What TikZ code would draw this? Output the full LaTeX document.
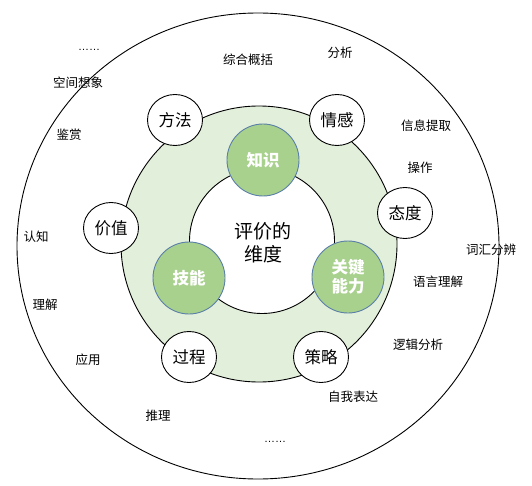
\documentclass[tikz,border=0pt]{standalone}
\usepackage{fontspec}
\setmainfont{Liberation Sans}
\newfontfamily\cjk{Noto Sans CJK SC}
\usepackage{xcolor}
\usepackage{tikz}
\usetikzlibrary{shapes}

\definecolor{ringgreen}{HTML}{E2EFDA}
\definecolor{keygreen}{HTML}{A9D18E}
\definecolor{keyedge}{HTML}{5A7FA8}

\begin{document}
\begin{tikzpicture}[x=1pt, y=-1pt]
		\tikzstyle{biground} = [draw=black, line width=0.9pt, circle, inner sep=0pt]
		\tikzstyle{keyround} = [draw=keyedge, line width=0.9pt, fill=keygreen, circle, minimum size=72, inner sep=0pt, align=center, text=white, font=\cjk\bfseries\fontsize{16.5}{19}\selectfont]
		\tikzstyle{aspect} = [draw=black, line width=0.9pt, fill=white, ellipse, minimum width=55, minimum height=51, inner sep=0pt, font=\cjk\fontsize{16.5}{19}\selectfont]
		\tikzstyle{ability} = [draw=none, inner sep=0pt, font=\cjk\fontsize{12.5}{14}\selectfont]
		\tikzstyle{more} = [draw=none, inner sep=0pt, font=\fontsize{11}{13}\selectfont]

		\useasboundingbox (0,0) rectangle (532,486);

		% rings
		\node[biground, ellipse, fill=white, minimum width=482, minimum height=466] at (258,246) (outer) {};
		\node[biground, fill=ringgreen, minimum size=276] at (259,244) (ring) {};
		\node[biground, fill=white, minimum size=145] at (262,241) (core) {};
		\node[align=center, inner sep=0pt, font=\cjk\fontsize{19}{23.5}\selectfont] at (263,243) (title) {评价的\\维度};

		% key dimensions
		\node[keyround] at (263,160) (knowledge) {知识};
		\node[keyround] at (189,278) (skill) {技能};
		\node[keyround] at (348,277) (keyability) {关键\\能力};

		% aspects on the ring
		\node[aspect] at (175,120) (method) {方法};
		\node[aspect] at (337,120) (emotion) {情感};
		\node[aspect] at (405,213) (attitude) {态度};
		\node[aspect] at (111,228) (value) {价值};
		\node[aspect] at (189,357) (process) {过程};
		\node[aspect] at (321,357) (strategy) {策略};

		% abilities in the outer band
		\node[more] at (89,50) (moretop) {……};
		\node[ability] at (248,60) (summary) {综合概括};
		\node[ability] at (340,53) (analysis) {分析};
		\node[ability] at (78,83) (imagine) {空间想象};
		\node[ability] at (69,135) (appreciate) {鉴赏};
		\node[ability] at (426,126) (extract) {信息提取};
		\node[ability] at (420,168) (operate) {操作};
		\node[ability] at (36,237) (cognize) {认知};
		\node[ability] at (491,250) (vocab) {词汇分辨};
		\node[ability] at (438,282) (language) {语言理解};
		\node[ability] at (45,305) (understand) {理解};
		\node[ability] at (418,345) (logic) {逻辑分析};
		\node[ability] at (88,360) (apply) {应用};
		\node[ability] at (353,397) (express) {自我表达};
		\node[ability] at (158,416) (reason) {推理};
		\node[more] at (275,442) (morebottom) {……};
\end{tikzpicture}
\end{document}
